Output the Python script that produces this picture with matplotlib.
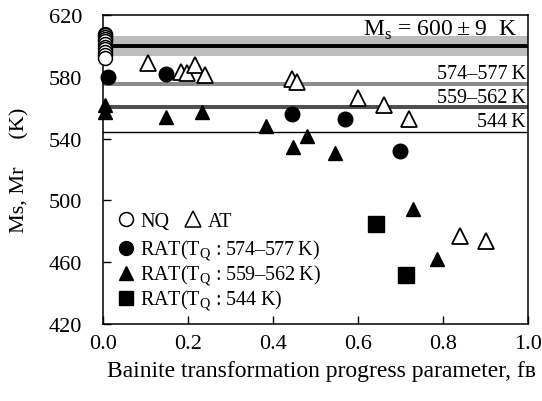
import matplotlib.pyplot as plt
from matplotlib.lines import Line2D

plt.rcParams['font.family'] = ['Liberation Serif', 'DejaVu Serif', 'DejaVu Sans']
plt.rcParams['mathtext.fontset'] = 'custom'
plt.rcParams['mathtext.rm'] = 'Liberation Serif'

# NQ (open circles), all at fB ~ 0
nq_f = [0.005, 0.005, 0.005, 0.005, 0.005, 0.005, 0.005, 0.005, 0.005, 0.005, 0.005]
nq_ms = [608, 607, 606, 604.5, 603, 601, 599.5, 598, 596, 594, 592]

# AT (open triangles)
at_f = [0.105, 0.184, 0.197, 0.216, 0.240, 0.445, 0.457, 0.601, 0.661, 0.721, 0.840, 0.901]
at_ms = [589, 583, 582.5, 588, 581, 578.5, 576.5, 566.5, 561.5, 552.5, 477, 474]

# RAT, TQ 574-577 K (filled circles)
rat1_f = [0.012, 0.148, 0.445, 0.569, 0.699]
rat1_ms = [580, 582, 556, 552.5, 532]

# RAT, TQ 559-562 K (filled triangles)
rat2_f = [0.005, 0.005, 0.148, 0.232, 0.383, 0.448, 0.479, 0.546, 0.729, 0.785]
rat2_ms = [562, 557, 554, 557, 548.5, 534.5, 542, 531, 494.5, 462]

# RAT, TQ 544 K (filled squares)
rat3_f = [0.642, 0.714]
rat3_ms = [484.5, 452]

fig, ax = plt.subplots(figsize=(5.42, 4.02), dpi=100)
fig.subplots_adjust(left=0.190, right=0.974, bottom=0.1915, top=0.960)

# reference levels
ax.axhspan(593.5, 606.5, color='#bdbdbd', lw=0, zorder=1)
ax.axhline(600, color='black', lw=2.8, zorder=2)
ax.axhspan(574, 577, color='#8c8c8c', lw=0, zorder=1)
ax.axhspan(559, 562, color='#505050', lw=0, zorder=1)
ax.axhline(544, color='black', lw=1.0, zorder=2)

ax.text(0.974, 611, 'M$_\\mathregular{s}$ = 600\u2009±\u20099\u2002K', ha='right', va='center',
        fontsize=17, zorder=4)
ax.text(0.995, 582.5, '574–577\u2009K', ha='right', va='center', fontsize=14.5, zorder=4)
ax.text(0.995, 566.5, '559–562\u2009K', ha='right', va='center', fontsize=14.5, zorder=4)
ax.text(0.995, 551, '544\u2009K', ha='right', va='center', fontsize=14.5, zorder=4)

ax.plot(nq_f, nq_ms, 'o', ms=10, mfc='white', mec='black', mew=1.1, zorder=3, clip_on=False)
ax.plot(at_f, at_ms, '^', ms=12, mfc='white', mec='black', mew=1.3, zorder=3)
ax.plot(rat1_f, rat1_ms, 'o', ms=10.5, color='black', zorder=3, clip_on=False)
ax.plot(rat2_f, rat2_ms, '^', ms=10, color='black', zorder=3, clip_on=False)
ax.plot(rat3_f, rat3_ms, 's', ms=12, color='black', zorder=3)

ax.set_xlim(0, 1.0)
ax.set_ylim(420, 620)
ax.set_xticks([0.0, 0.2, 0.4, 0.6, 0.8, 1.0])
ax.set_xticklabels(['0.0', '0.2', '0.4', '0.6', '0.8', '1.0'])
ax.set_yticks([420, 460, 500, 540, 580, 620])
ax.tick_params(direction='in', length=6, width=1, labelsize=16)
ax.tick_params(axis='y', pad=15)
ax.tick_params(axis='x', pad=7)
for s in ax.spines.values():
    s.set_linewidth(1.1)

ax.set_xlabel('Bainite transformation progress parameter, fʙ', fontsize=17, labelpad=5)
ax.xaxis.label.set_x(0.515)
ax.set_ylabel('Ms, Mr\u2003 (K)', fontsize=16, labelpad=14)

# legend: top row with two open symbols, then the three RAT series
h_top = [Line2D([], [], ls='none', marker='o', ms=10, mfc='white', mec='black', mew=1.1),
         Line2D([], [], ls='none', marker='^', ms=11, mfc='white', mec='black', mew=1.1)]
leg1 = ax.legend(h_top, ['NQ', 'AT'], ncol=2, loc='lower left', bbox_to_anchor=(0.035, 0.30),
                 frameon=False, fontsize=14.5, handlelength=0.8, handletextpad=0.3,
                 columnspacing=0.8, borderpad=0, borderaxespad=0)
ax.add_artist(leg1)
h_rat = [Line2D([], [], ls='none', marker='o', ms=10, color='black'),
         Line2D([], [], ls='none', marker='^', ms=10, color='black'),
         Line2D([], [], ls='none', marker='s', ms=10, color='black')]
ax.legend(h_rat, ['RAT(T$_\\mathregular{Q}$ : 574–577\u2009K)',
                  'RAT(T$_\\mathregular{Q}$ : 559–562\u2009K)',
                  'RAT(T$_\\mathregular{Q}$ : 544\u2009K)'],
          loc='lower left', bbox_to_anchor=(0.035, 0.035), frameon=False, fontsize=14.5,
          handlelength=0.8, handletextpad=0.3, labelspacing=0.0, borderpad=0, borderaxespad=0)

fig.savefig('out.png', dpi=100)
